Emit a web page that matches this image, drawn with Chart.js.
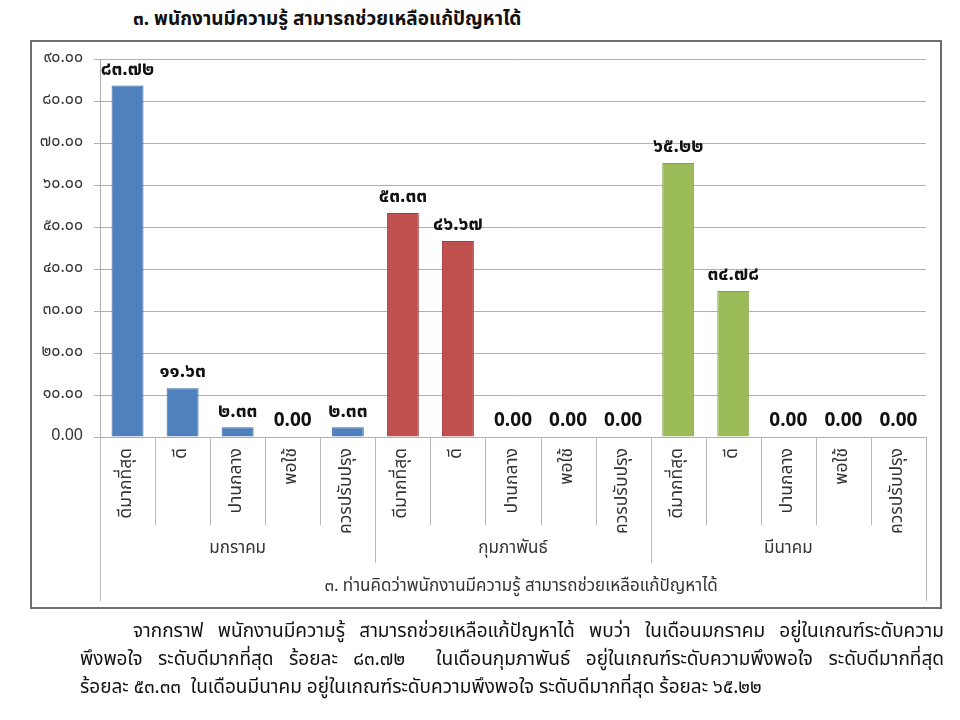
<!DOCTYPE html>
<html>
<head>
<meta charset="utf-8">
<script src="https://cdn.jsdelivr.net/npm/chart.js@4.4.1/dist/chart.umd.min.js"></script>
<style>
  body { margin: 0; background: #fff; font-family: "Noto Sans Thai", Tahoma, "Noto Sans", sans-serif; }
  #page { position: relative; width: 960px; height: 720px; overflow: hidden; }
  #frame { position: absolute; left: 30px; top: 40px; width: 908px; height: 565px; border: 2px solid #6e6e6e; }
  #title { position: absolute; left: 133px; top: 6px; font-size: 19px; font-weight: bold; color: #111; white-space: nowrap; line-height: 28px; }
  .line { position: absolute; font-size: 19px; color: #111; white-space: nowrap; line-height: 28px; }
  .just { white-space: normal; text-align: justify; text-align-last: justify; }
  canvas { position: absolute; left: 0; top: 0; }
</style>
</head>
<body>
<div id="page">
  <div id="frame"></div>
  <div id="title">๓. พนักงานมีความรู้ สามารถช่วยเหลือแก้ปัญหาได้</div>
  <canvas id="chart" width="960" height="720"></canvas>
  <div class="line just" style="left:133px; top:618px; width:811px;">จากกราฟ พนักงานมีความรู้ สามารถช่วยเหลือแก้ปัญหาได้ พบว่า ในเดือนมกราคม อยู่ในเกณฑ์ระดับความ</div>
  <div class="line just" style="left:80px; top:646px; width:864px;">พึงพอใจ ระดับดีมากที่สุด ร้อยละ ๘๓.๗๒ &nbsp;ในเดือนกุมภาพันธ์ อยู่ในเกณฑ์ระดับความพึงพอใจ ระดับดีมากที่สุด</div>
  <div class="line" style="left:80px; top:674px;">ร้อยละ ๕๓.๓๓ &nbsp;ในเดือนมีนาคม อยู่ในเกณฑ์ระดับความพึงพอใจ ระดับดีมากที่สุด ร้อยละ ๖๕.๒๒</div>
</div>
<script>
// data
const categories = ['ดีมากที่สุด', 'ดี', 'ปานกลาง', 'พอใช้', 'ควรปรับปรุง'];
const months = ['มกราคม', 'กุมภาพันธ์', 'มีนาคม'];
const janValues = [83.72, 11.63, 2.33, 0.00, 2.33];
const febValues = [53.33, 46.67, 0.00, 0.00, 0.00];
const marValues = [65.22, 34.78, 0.00, 0.00, 0.00];
const yMin = 0, yMax = 90, yStep = 10;
const axisTitle = '๓. ท่านคิดว่าพนักงานมีความรู้ สามารถช่วยเหลือแก้ปัญหาได้';

const monthValues = [janValues, febValues, marValues];
const monthColors = ['#4f81bd', '#c0504d', '#9bbb59'];
const monthBorders = ['#3a6aa3', '#a53e3b', '#84a543'];

const thaiDigits = '๐๑๒๓๔๕๖๗๘๙';
function toThai(v) {
    const s = v.toFixed(2);
    if (v === 0) return s; // zeros show as arabic in the original
    return s.replace(/[0-9]/g, d => thaiDigits[d]);
}

// 15 slots: every category for each month
const labels = [];
months.forEach(() => categories.forEach(c => labels.push(c)));

const datasets = monthValues.map((vals, m) => {
    const data = labels.map(() => null);
    vals.forEach((v, i) => { data[m * categories.length + i] = v; });
    return {
        label: months[m],
        data: data,
        backgroundColor: monthColors[m],
        borderColor: monthBorders[m],
        borderWidth: 1,
        grouped: false,
        categoryPercentage: 1,
        barPercentage: 0.58
    };
});

const FONT = '"Noto Sans Thai", Tahoma, "Noto Sans", sans-serif';

// value labels above bars
const valueLabels = {
    id: 'valueLabels',
    afterDatasetsDraw(chart) {
        const ctx = chart.ctx;
        ctx.save();
        ctx.fillStyle = '#111';
        ctx.textAlign = 'center';
        ctx.textBaseline = 'bottom';
        chart.data.datasets.forEach((ds, di) => {
            chart.getDatasetMeta(di).data.forEach((bar, i) => {
                const v = ds.data[i];
                if (v === null) return;
                ctx.font = 'bold 19px ' + FONT;
                ctx.fillText(toThai(v), bar.x, bar.y - 5);
            });
        });
        ctx.restore();
    }
};

// multi-level category axis under the plot
const groupAxis = {
    id: 'groupAxis',
    afterDraw(chart) {
        const ctx = chart.ctx;
        const x = chart.scales.x;
        const area = chart.chartArea;
        const n = labels.length;
        const slot = (area.right - area.left) / n;
        const y0 = area.bottom;
        ctx.save();
        ctx.strokeStyle = '#b8b8b8';
        ctx.lineWidth = 1;
        // separators
        for (let i = 0; i <= n; i++) {
            const px = Math.round(area.left + i * slot) + 0.5;
            let y1 = y0 + 88;
            if (i % categories.length === 0) y1 = y0 + 126;
            if (i === 0 || i === n) y1 = y0 + 164;
            ctx.beginPath();
            ctx.moveTo(px, y0);
            ctx.lineTo(px, y1);
            ctx.stroke();
        }
        // rotated category labels
        ctx.fillStyle = '#333';
        ctx.font = '17.5px ' + FONT;
        ctx.textAlign = 'right';
        ctx.textBaseline = 'middle';
        labels.forEach((lab, i) => {
            const px = x.getPixelForValue(i);
            ctx.save();
            ctx.translate(px, y0 + 11);
            ctx.rotate(-Math.PI / 2);
            ctx.fillText(lab, 0, 0);
            ctx.restore();
        });
        // month labels
        ctx.textAlign = 'center';
        ctx.font = '17px ' + FONT;
        months.forEach((m, mi) => {
            const cx = area.left + (mi + 0.5) * categories.length * slot;
            ctx.fillText(m, cx, y0 + 113);
        });
        // outer label
        ctx.fillText(axisTitle, (area.left + area.right) / 2 + 8, y0 + 151);
        ctx.restore();
    }
};

new Chart(document.getElementById('chart'), {
    type: 'bar',
    data: { labels: labels, datasets: datasets },
    options: {
        responsive: false,
        animation: false,
        layout: { padding: { left: 30, top: 59, right: 34, bottom: 283 } },
        plugins: { legend: { display: false }, tooltip: { enabled: false } },
        scales: {
            x: {
                ticks: { display: false },
                grid: { display: false },
                border: { display: false },
                afterFit(scale) { scale.height = 0; }
            },
            y: {
                min: yMin,
                max: yMax,
                ticks: {
                    stepSize: yStep,
                    padding: 11,
                    color: '#333',
                    font: { family: FONT, size: 16 },
                    callback: v => toThai(v)
                },
                grid: { color: '#b0b0b0', tickLength: 6 },
                border: { color: '#b0b0b0' },
                afterFit(scale) { scale.width = 70; }
            }
        }
    },
    plugins: [valueLabels, groupAxis]
});
</script>
</body>
</html>
